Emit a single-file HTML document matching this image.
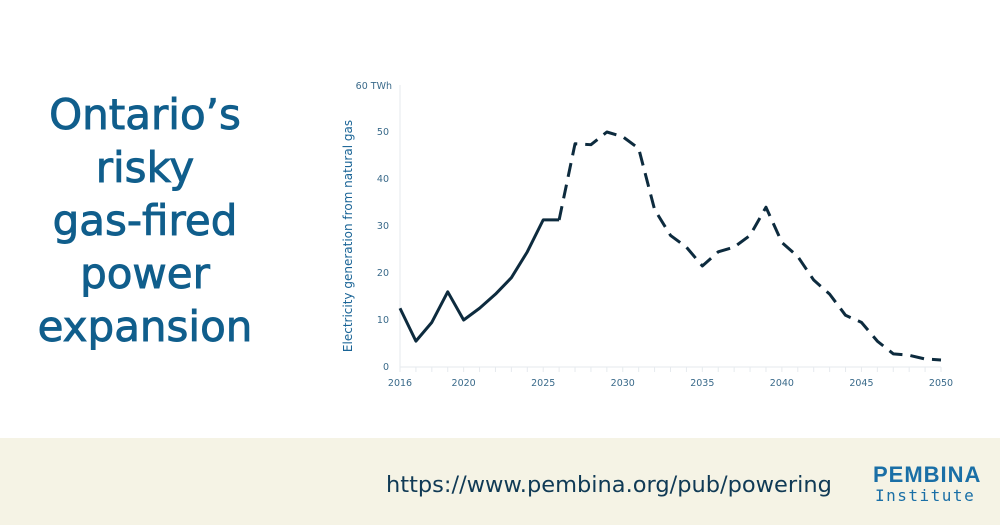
<!DOCTYPE html>
<html><head><meta charset="utf-8"><style>
body{margin:0;width:1000px;height:525px;background:#fff;font-family:"Liberation Sans",sans-serif;position:relative;overflow:hidden}
#title{position:absolute;left:20px;top:88px;width:250px;text-align:center;color:#105e8c;font-size:42px;-webkit-text-stroke:0.9px #105e8c;line-height:53px;font-family:"DejaVu Sans","Liberation Sans",sans-serif}
#footer{position:absolute;left:0;top:438px;width:1000px;height:87px;background:#f5f3e5}
#url{position:absolute;left:386px;top:472px;font-size:22.5px;color:#103a55;font-family:"DejaVu Sans","Liberation Sans",sans-serif}
#logo1{position:absolute;left:873px;top:462px;font-size:22px;font-weight:bold;color:#1a6fa6;letter-spacing:1px}
#logo2{position:absolute;left:875px;top:486px;font-size:16px;color:#1a6fa6;font-family:"DejaVu Sans Mono","Liberation Mono",monospace;letter-spacing:1.5px}
</style></head><body>
<div id="title">Ontario’s<br>risky<br>gas-fired<br>power<br>expansion</div>
<svg id="chart" width="1000" height="438" style="position:absolute;left:0;top:0"></svg>
<div id="footer"></div>
<div id="url">https://www.pembina.org/pub/powering</div>
<div id="logo1">PEMBINA</div>
<div id="logo2">Institute</div>
<script>
const years=[2016,2017,2018,2019,2020,2021,2022,2023,2024,2025,2026,2027,2028,2029,2030,2031,2032,2033,2034,2035,2036,2037,2038,2039,2040,2041,2042,2043,2044,2045,2046,2047,2048,2049,2050];
const values=[12.5,5.5,9.5,16,10,12.5,15.5,19,24.5,31.3,31.3,47.5,47.3,50,49,46.5,33.5,28,25.5,21.5,24.5,25.5,28,34,26.5,23.5,18.5,15.5,11,9.5,5.5,2.8,2.5,1.7,1.5];
const xTicks=[2016,2020,2025,2030,2035,2040,2045,2050];
const yTicks=[0,10,20,30,40,50];
const lastActual=2026;
const svg=document.getElementById('chart');const NS='http://www.w3.org/2000/svg';
const x=v=>400+(v-2016)*(541/34);const y=v=>367-v*4.7;
function el(t,a,p){const e=document.createElementNS(NS,t);for(const k in a)e.setAttribute(k,a[k]);(p||svg).appendChild(e);return e;}
let e=el('line',{x1:400,y1:85,x2:400,y2:367,stroke:'#e6eaee','stroke-width':1});

e=el('line',{x1:400,y1:367,x2:941,y2:367,stroke:'#e6eaee','stroke-width':1});

for(const yr of years){const t=el('line',{x1:x(yr),x2:x(yr),y1:367,y2:372,stroke:'#e6eaee'});}
for(const yr of xTicks){const t=el('text',{x:x(yr),y:386,'text-anchor':'middle','font-size':9.5,fill:'#3a6a8a','font-family':'DejaVu Sans, sans-serif'});t.textContent=yr;}
for(const v of yTicks){const t=el('text',{x:389,y:y(v)+3,'text-anchor':'end','font-size':9.5,fill:'#3a6a8a','font-family':'DejaVu Sans, sans-serif'});t.textContent=v;}
e=el('text',{x:392,y:89,'text-anchor':'end','font-size':9.5,fill:'#3a6a8a','font-family':'DejaVu Sans, sans-serif'});e.textContent='60 TWh';

e=el('text',{x:0,y:0,transform:'translate(352,236) rotate(-90)','text-anchor':'middle','font-size':12,fill:'#1a6496','font-family':'DejaVu Sans, sans-serif'});e.textContent='Electricity generation from natural gas';

const solid=[],dash=[];
years.forEach((yr,i)=>{const p=x(yr)+','+y(values[i]);if(yr<=lastActual)solid.push(p);if(yr>=lastActual)dash.push(p);});
e=el('polyline',{points:solid.join(' '),fill:'none',stroke:'#0d2b3e','stroke-width':3,'stroke-linejoin':'round'});

e=el('polyline',{points:dash.join(' '),fill:'none',stroke:'#0d2b3e','stroke-width':3,'stroke-dasharray':'14 8','stroke-linejoin':'round'});

</script>
</body></html>
